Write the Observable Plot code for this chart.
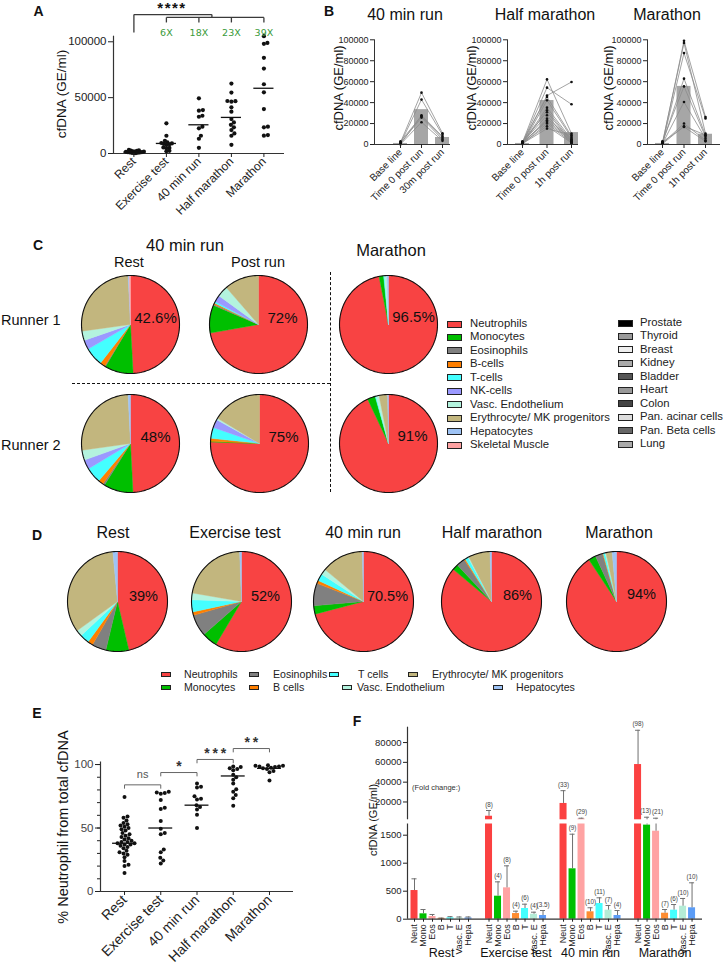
<!DOCTYPE html>
<html><head><meta charset="utf-8">
<script src="https://cdn.jsdelivr.net/npm/d3@7"></script>
<script src="https://cdn.jsdelivr.net/npm/@observablehq/plot@0.6"></script>
<style>
body{margin:0;background:#fff;font-family:'Liberation Sans',Arial,sans-serif;}
#page{position:relative;width:724px;height:968px;overflow:hidden;background:#fff;}
</style></head><body><div id="page"></div>
<script>
// ================= DATA =================
// Panel A
const stagesA = ["Rest","Exercise test","40 min run","Half marathon","Marathon"];
const restA = [3200,2800,2500,2300,2000,1800,1600,1500,1300,1200,1000,900,700,600,400,300];
const exerciseA = [27000,15900,11400,10000,9400,9000,8700,8300,7800,5400,5000,4800,2400,2000];
const min40A = [49400,38900,38300,33800,32900,24000,22500,15900,13200,5100];
const halfA = [62600,54500,47000,46800,46400,41300,37400,30800,27800,25700,23400,21000,18000,15900,7800];
const marathonA = [105000,99000,98200,85600,76000,62000,54800,39800,24000,23400,16500,16000];
const centerA = [1200,9000,25700,32300,58400];
const foldA = ["6X","18X","23X","39X"];
const bracketA = {top:124400, drop:108300, mid:121800, tick:117300, split:2.4};

// Panel B
const phases30 = ["Base line","Time 0 post run","30m post run"];
const phases1h = ["Base line","Time 0 post run","1h post run"];
const b40Base = [2000,1000,500,3000,1500,200];
const b40T0 = [49500,42900,27900,27000,25700,21300];
const b40T1 = [10800,9200,7600,6300,4800,3500];
const b40Bars = [1000,33300,6700];
const bHalfBase = [2000,1500,1000,2500,500,1200,800,3000,1800,600,1000,2200,400,1400,900];
const bHalfT0 = [62200,54300,46700,45400,42200,35200,32700,30800,27900,24800,23200,21600,20000,17500,15200];
const bHalfT1 = [10500,38400,59700,8000,6700,4800,3500,2500,1000,5500,4000,3000,2000,1500,9000];
const bHalfBars = [1000,42000,11400];
const bMarBase = [1000,2000,500,1500,3000,800,1200,600,2500];
const bMarT0 = [99000,97000,87300,62900,55500,40600,20000,17500,16800];
const bMarT1 = [26300,10500,24800,8900,7300,5700,4100,9000,3000];
const bMarBars = [1000,55500,9800];

// Panel C
const cellTypesC = ["Neutrophils","Monocytes","Eosinophils","B-cells","T-cells","NK-cells","Vasc. Endothelium","Erythrocyte/ MK progenitors","Hepatocytes","Skeletal Muscle"];
const cellColorsC = ["#f84343","#00bf00","#808080","#ff7f00","#44ffff","#9b99ff","#b3f3de","#c2b67e","#9ec3f5","#ffa3a3"];
const tissuesC = ["Prostate","Thyroid","Breast","Kidney","Bladder","Heart","Colon","Pan. acinar cells","Pan. Beta cells","Lung"];
const tissueColorsC = ["#000000","#9a9a9a","#eeeeee","#aaaaaa","#555555","#999999","#444444","#dddddd","#666666","#aaaaaa"];
const r1Rest = [49.2,9.4,0.3,1.7,6.1,3.1,3.1,26.4,0.4,0.4];
const r1Post = [72.2,9.2,0.4,0.4,0.6,2.2,3.6,11.4,0,0];
const r1Mar  = [96.9,1.5,0,0,0.3,0,0.8,0,0.5,0];
const r2Rest = [49.2,9.7,0.6,1.7,5.2,3.1,3.3,26.4,0.8,0];
const r2Post = [75.5,0.2,0,1.0,3.6,2.8,0.5,16.4,0,0];
const r2Mar  = [93.0,2.6,0,0,0.3,0,1.0,2.8,0.3,0];
const labelsC = ["42.6%","72%","96.5%","48%","75%","91%"];

// Panel D
const cellTypesD = ["Neutrophils","Monocytes","Eosinophils","B cells","T cells","Vasc. Endothelium","Erythrocyte/ MK progenitors","Hepatocytes"];
const cellColorsD = ["#f84343","#00bf00","#808080","#ff7f00","#44ffff","#b3f3de","#c2b67e","#9ec3f5"];
const stagesD = ["Rest","Exercise test","40 min run","Half marathon","Marathon"];
const dRest = [46.4,7.4,4.6,1.7,3.0,2.0,33.5,1.5];
const dExercise = [58.6,5.0,7.0,1.1,3.9,2.2,21.7,0.6];
const d40 = [71.0,2.7,7.3,1.0,2.3,1.8,13.6,0.4];
const dHalf = [86.2,1.9,2.8,0.4,1.0,0.3,7.0,0.5];
const dMar = [90.7,2.4,2.4,0.2,0.6,0.3,2.0,1.4];
const labelsD = ["39%","52%","70.5%","86%","94%"];

// Panel E
const stagesE = ["Rest","Exercise test","40 min run","Half marathon","Marathon"];
const restE = [74.5,59,58,56,54,53,52,51,50,49,48,46,45,44,43,42,41,40,39,39,38,38,37,37,36,35,34,32,31,30,29,27,24,21,20,14.5];
const exerciseE = [78.5,78,77.5,77,72,66,65,55.5,49.5,46,45,33,31,26.5,24.5,22];
const min40E = [85,82.5,82,75,73,72.5,68,66.5,64.5,60.5,50];
const halfE = [98.5,98,97,96.5,95.5,92,90,88,85,80.5,78.5,76,73.5,67.5];
const marathonE = [99.5,99,99,98.5,98.5,98,97.5,97,96.5,95,94,87.5];
const centerE = [38,50,68,91,97];
const bracketsE = [{a:0,b:1,y:84,label:"ns"},{a:1,b:2,y:93.7,label:"*"},{a:2,b:3,y:104,label:"*\u2009*\u2009*"},{a:3,b:4,y:112.6,label:"*\u2009*"}];

// Panel F
const stagesF = ["Rest","Exercise test","40 min run","Marathon"];
const cellsF = ["Neut","Mono","Eos","B","T","Vasc. E","Hepa"];
const colorsF = ["#fb4141","#00c000","#ffa3a3","#ff8c30","#44ffff","#b4ecd6","#5b9cf6"];
const restF = [512,96,48,15,25,22,22];
const restErrF = [721,173,84,20,45,40,40];
const exerciseF = [5600,411,560,101,191,89,66];
const exerciseErrF = [11400,667,953,143,268,125,155];
const min40F = [18500,900,2900,132,280,161,66];
const min40ErrF = [31400,1518,3600,204,382,245,155];
const marathonF = [57800,1680,1571,107,161,232,204];
const marathonErrF = [92400,4600,3600,173,262,370,650];
const foldRest = ["","","","","","",""];
const foldExercise = ["(8)","(4)","(8)","(4)","(6)","(4)","(3.5)"];
const fold40 = ["(33)","(9)","(29)","(10)","(11)","(7)","(4)"];
const foldMar = ["(98)","(13)","(21)","(7)","(6)","(10)","(10)"];

// ================= HELPERS =================
const FONT = "'Liberation Sans', Arial, sans-serif";
const page = document.getElementById("page");
const baseStyle = {fontFamily: FONT, color: "#222", background: "transparent", overflow: "visible"};
function put(el, left, top){ el.style.position="absolute"; el.style.left=left+"px"; el.style.top=top+"px"; page.appendChild(el); return el; }
function txt(s, x, y, o={}){
  const d = document.createElement("div");
  d.textContent = s;
  const ax = o.anchor==="start" ? "0" : o.anchor==="end" ? "-100%" : "-50%";
  Object.assign(d.style,{position:"absolute",left:x+"px",top:y+"px",fontSize:(o.size||12)+"px",fontWeight:o.weight||"normal",
    fontFamily:o.family||FONT,color:o.color||"#111",whiteSpace:"nowrap",lineHeight:"1",letterSpacing:(o.spacing||0)+"px",
    transform:`translate(${ax},-50%)`+(o.rotate?` rotate(${o.rotate}deg)`:"")});
  page.appendChild(d); return d;
}
function box(x,y,w,h,css){ const d=document.createElement("div"); Object.assign(d.style,{position:"absolute",left:x+"px",top:y+"px",width:w+"px",height:h+"px",boxSizing:"border-box"},css); page.appendChild(d); return d; }
// beeswarm offsets (layout only) in x units
function swarm(values, pxX, pxY, dist){
  const idx = d3.range(values.length).sort((a,b)=>values[a]-values[b]);
  const placed=[], off=new Array(values.length);
  for(const i of idx){
    const yp = values[i]*pxY; let best=0;
    for(let k=0;k<600;k++){
      const c = (k%2?1:-1)*Math.ceil(k/2)*0.5;
      if(placed.every(p=>(p.x-c)**2+(p.y-yp)**2 >= dist*dist)){best=c;break;}
    }
    placed.push({x:best,y:yp}); off[i]=best/pxX;
  }
  return off;
}

// ================= PANEL A =================
(function(){
  const vals=[restA,exerciseA,min40A,halfA,marathonA];
  const dists=[1.8,2.6,3.6,3.6,3.6];
  const pxX=32.5, pxY=111.7/100000;
  const rows=[];
  vals.forEach((arr,i)=>{ const off=swarm(arr,pxX,pxY,dists[i]); arr.forEach((v,j)=>rows.push({i,v,x:i+off[j]})); });
  const x0=-0.6277;
  const b=bracketA;
  const links=[{x1:0,y1:b.top,x2:b.split,y2:b.top},{x1:0,y1:b.top,x2:0,y2:b.drop},{x1:b.split,y1:b.top,x2:b.split,y2:b.mid},{x1:1,y1:b.mid,x2:4,y2:b.mid},
    ...[1,2,3,4].map(i=>({x1:i,y1:b.mid,x2:i,y2:b.tick}))];
  const svg=Plot.plot({width:300,height:215,marginLeft:113,marginRight:16,marginTop:35.7,marginBottom:62,
    x:{domain:[x0,4.6338]}, y:{domain:[0,105000]}, style:baseStyle,
    marks:[
      Plot.ruleY([0],{stroke:"#333",strokeWidth:1.2}),
      Plot.ruleX([x0],{stroke:"#333",strokeWidth:1.2}),
      Plot.dot(rows,{x:"x",y:"v",r:2.1,fill:"#111",stroke:null}),
      Plot.ruleY(centerA,{y:d=>d,x1:(d,i)=>i-0.31,x2:(d,i)=>i+0.31,stroke:"#111",strokeWidth:1.3}),
      Plot.link(links,{x1:"x1",y1:"y1",x2:"x2",y2:"y2",stroke:"#3a3a3a",strokeWidth:1.3}),
      Plot.text(foldA,{x:(d,i)=>i+1,frameAnchor:"top",dy:-6.5,text:d=>d,fill:"#3a9a3a",fontSize:9.5,fontFamily:"DejaVu Sans"}),
      Plot.axisY({ticks:[0,50000,100000],tickFormat:d=>String(d),tickSize:5,tickPadding:2,fontSize:11.5,label:null}),
      Plot.axisX({ticks:[0,1,2,3,4],tickFormat:i=>stagesA[i],tickRotate:-45,tickSize:4,tickPadding:2,fontSize:12,label:null})
    ]});
  put(svg,0,0);
  txt("A",38.5,11,{size:14,weight:"bold"});
  txt("****",172,7,{size:15,weight:"bold",spacing:1.5});
  txt("cfDNA (GE/ml)",62,94,{size:13.5,rotate:-90});
})();

// ================= PANEL B =================
function plotB(phases,base,t0,t1,bars,c0,s,ax0,ax1,left,width){
  const rows=[];
  base.forEach((bv,k)=>[bv,t0[k],t1[k]].forEach((v,i)=>rows.push({id:k,i,v})));
  const x0=(ax0-c0)/s, x1=2+(ax1-(c0+2*s))/s, hw=7/s;
  const svg=Plot.plot({width,height:190,marginLeft:ax0-left,marginRight:left+width-ax1,marginTop:19.3,marginBottom:66,
    x:{domain:[x0,x1]}, y:{domain:[0,100000]}, style:baseStyle,
    marks:[
      Plot.rect(bars,{x1:(d,i)=>i-hw,x2:(d,i)=>i+hw,y1:0,y2:d=>d,fill:"#a6a6a6"}),
      Plot.line(rows,{x:"i",y:"v",z:"id",stroke:"#8c8c8c",strokeWidth:0.8}),
      Plot.dot(rows,{x:"i",y:"v",r:1.3,fill:"#111",stroke:null}),
      Plot.ruleY([0],{stroke:"#333"}),
      Plot.ruleX([x0],{stroke:"#333"}),
      Plot.axisY({ticks:d3.range(0,100001,20000),tickFormat:d=>String(d),tickSize:4,tickPadding:2,fontSize:9,label:null}),
      Plot.axisX({ticks:[0,1,2],tickFormat:i=>phases[i],tickRotate:-45,tickSize:4,tickPadding:2,fontSize:10,label:null})
    ]});
  put(svg,left,20);
}
plotB(phases30,b40Base,b40T0,b40T1,b40Bars,400,21,374,450,320,135);
plotB(phases1h,bHalfBase,bHalfT0,bHalfT1,bHalfBars,522,24.5,507,578,458,125);
plotB(phases1h,bMarBase,bMarT0,bMarT1,bMarBars,662,21.5,647,720,600,124);
txt("B",329,11,{size:14,weight:"bold"});
txt("40 min run",405,15,{size:16});
txt("Half marathon",545,15,{size:16});
txt("Marathon",667,15,{size:16});
txt("cfDNA (GE/ml)",338,88,{size:13,rotate:-90});
txt("cfDNA (GE/ml)",471,88,{size:13,rotate:-90});
txt("cfDNA (GE/ml)",608,88,{size:13,rotate:-90});

// ================= PIES =================
function pie(values,cats,colors,r,label,ldx,ldy,fs){
  const total=d3.sum(values); const rows=[]; let acc=0;
  values.forEach((v,i)=>{
    if(!(v>0)) return;
    const a0=acc/total*2*Math.PI, a1=(acc+v)/total*2*Math.PI; acc+=v;
    const n=Math.max(2,Math.ceil((a1-a0)/(Math.PI/180)));
    rows.push({key:i,cat:cats[i],x:0,y:0});
    for(let k=0;k<=n;k++){const a=a0+(a1-a0)*k/n; rows.push({key:i,cat:cats[i],x:Math.sin(a),y:Math.cos(a)});}
    rows.push({key:i,cat:cats[i],x:0,y:0});
  });
  const ring=d3.range(0,361,2).map(d=>({x:Math.sin(d*Math.PI/180),y:Math.cos(d*Math.PI/180)}));
  const size=2*r+4;
  return Plot.plot({width:size,height:size,margin:2,x:{domain:[-1,1],axis:null},y:{domain:[-1,1],axis:null},
    color:{domain:cats,range:colors},style:baseStyle,
    marks:[
      Plot.line(rows,{x:"x",y:"y",z:"key",fill:"cat",stroke:"cat",strokeWidth:0.4}),
      Plot.line(ring,{x:"x",y:"y",stroke:"#111",strokeWidth:1.1}),
      Plot.text([label],{frameAnchor:"middle",dx:ldx,dy:ldy,text:d=>d,fontSize:fs,fill:"#111"})
    ]});
}

// ================= PANEL C =================
(function(){
  const pies=[[r1Rest,130,324,25,-6],[r1Post,258,324,24,-6],[r1Mar,388,324,25,-7],[r2Rest,130,443,25,-6],[r2Post,259,443,24,-6],[r2Mar,388,443,24,-7]];
  pies.forEach(([v,cx,cy,dx,dy],k)=>put(pie(v,cellTypesC,cellColorsC,49,labelsC[k],dx,dy,15),cx-51,cy-51));
  txt("C",38,245,{size:14,weight:"bold"});
  txt("40 min run",185,245,{size:16.5});
  txt("Rest",129,262,{size:14.5});
  txt("Post run",258,262,{size:14.5});
  txt("Marathon",391,250,{size:16.5});
  txt("Runner 1",1,320,{size:14.5,anchor:"start"});
  txt("Runner 2",1,445,{size:14.5,anchor:"start"});
  box(330,272,2,220,{borderLeft:"1.5px dashed #111"});
  box(72,383,258,2,{borderTop:"1.5px dashed #111"});
  cellTypesC.forEach((c,k)=>{ const y=324+k*13.45; box(447,y-3.5,15,7,{background:cellColorsC[k],border:"1px solid #222"}); txt(c,470,y,{size:11.3,anchor:"start",color:"#222"}); });
  tissuesC.forEach((c,k)=>{ const y=323+k*13.45; box(618,y-3.5,15,7,{background:tissueColorsC[k],border:"1px solid #222"}); txt(c,640,y,{size:11.3,anchor:"start",color:"#222"}); });
})();

// ================= PANEL D =================
(function(){
  const vals=[dRest,dExercise,d40,dHalf,dMar];
  const cx=[117,241,363,491,616], tx=[113,235,363,492,619], ldx=[26,24,24,26,25], ldy=[-5,-5,-5,-6,-7];
  vals.forEach((v,k)=>put(pie(v,cellTypesD,cellColorsD,50,labelsD[k],ldx[k],ldy[k],14.5),cx[k]-52,601-52));
  stagesD.forEach((s,k)=>txt(s,tx[k],533,{size:16}));
  txt("D",37,535,{size:14,weight:"bold"});
  const leg=[[0,161,184,674],[2,249,273,674],[4,329,358,674],[6,408,432,674],[1,161,184,687],[3,249,273,687],[5,342,357,687],[7,493,516,687]];
  leg.forEach(([k,sx,tx2,y])=>{ box(sx,y-2.5,10,5,{background:cellColorsD[k],border:"1px solid #222"}); txt(cellTypesD[k],tx2,y,{size:10.6,anchor:"start",color:"#222"}); });
})();

// ================= PANEL E =================
(function(){
  const vals=[restE,exerciseE,min40E,halfE,marathonE];
  const pxX=36.24, pxY=1.2696;
  const rows=[];
  vals.forEach((arr,i)=>{ const off=swarm(arr,pxX,pxY,3.8); arr.forEach((v,j)=>rows.push({i,v,x:i+off[j]})); });
  const x0=-0.663;
  const svg=Plot.plot({width:310,height:268,marginLeft:100,marginRight:17,marginTop:61.5,marginBottom:77,
    x:{domain:[x0,4.663]}, y:{domain:[0,102]}, style:baseStyle,
    marks:[
      Plot.ruleY([0],{stroke:"#333",strokeWidth:1.2}),
      Plot.ruleX([x0],{stroke:"#333",strokeWidth:1.2}),
      Plot.dot(rows,{x:"x",y:"v",r:2,fill:"#111",stroke:null}),
      Plot.ruleY(centerE,{y:d=>d,x1:(d,i)=>i-0.33,x2:(d,i)=>i+0.33,stroke:"#111",strokeWidth:1.3}),
      Plot.link(bracketsE,{x1:"a",x2:"b",y1:"y",y2:"y",stroke:"#666",strokeWidth:1}),
      Plot.link(bracketsE,{x1:"a",x2:"a",y1:"y",y2:d=>d.y-3,stroke:"#666",strokeWidth:1}),
      Plot.link(bracketsE,{x1:"b",x2:"b",y1:"y",y2:d=>d.y-3,stroke:"#666",strokeWidth:1}),
      Plot.text(bracketsE,{filter:d=>d.label==="ns",x:d=>(d.a+d.b)/2,y:"y",text:"label",dy:-10,fontSize:11,fill:"#555"}),
      Plot.text(bracketsE,{filter:d=>d.label!=="ns",x:d=>(d.a+d.b)/2,y:"y",text:"label",dy:-6,fontSize:14,fontWeight:"bold",fill:"#333"}),
      Plot.axisY({ticks:d3.range(0,101,10),tickSize:3,tickFormat:()=>"",label:null}),
      Plot.axisY({ticks:[0,50,100],tickSize:5,tickPadding:2,tickFormat:d=>String(d),fontSize:11.5,fill:"#444",label:null}),
      Plot.axisX({ticks:[0,1,2,3,4],tickFormat:i=>stagesE[i],tickRotate:-45,tickSize:4,tickPadding:2,fontSize:14,label:null})
    ]});
  put(svg,0,700);
  txt("E",37,713,{size:14,weight:"bold"});
  txt("% Neutrophil from total cfDNA",63,827,{size:14.5,rotate:-90});
})();

// ================= PANEL F =================
(function(){
  const vals=[restF,exerciseF,min40F,marathonF], errs=[restErrF,exerciseErrF,min40ErrF,marathonErrF], folds=[foldRest,foldExercise,fold40,foldMar];
  const gapF=8.28;
  const rows=[];
  stagesF.forEach((st,gi)=>cellsF.forEach((c,ci)=>rows.push({gi,ci,cell:c,pos:gi*gapF+ci,v:vals[gi][ci],err:errs[gi][ci],fold:folds[gi][ci]})));
  const cellByPos=new Map(rows.map(d=>[d.pos,d.cell]));
  const x0=-0.778, xd=[x0,32.0], hw=0.39, cw=0.28;
  // adjacent labels that would collide are anchored away from each other
  const pairL=d=>d.gi===3&&d.ci===1, pairR=d=>d.gi===3&&d.ci===2;
  const upper=Plot.plot({width:364,height:105,marginLeft:47,marginRight:22,marginTop:11.7,marginBottom:0.7,
    x:{domain:xd,axis:null}, y:{domain:[2000,95500],clamp:true}, color:{domain:cellsF,range:colorsF}, style:baseStyle,
    marks:[
      Plot.rect(rows,{filter:d=>d.v>2000,x1:d=>d.pos-hw,x2:d=>d.pos+hw,y1:0,y2:"v",fill:"cell"}),
      Plot.ruleX(rows,{filter:d=>d.err>2000,x:"pos",y1:"v",y2:"err",stroke:"#707070"}),
      Plot.ruleY(rows,{filter:d=>d.err>2000,y:"err",x1:d=>d.pos-cw,x2:d=>d.pos+cw,stroke:"#707070"}),
      Plot.text(rows,{filter:d=>d.err>2000&&d.fold&&!pairL(d)&&!pairR(d),x:"pos",y:"err",text:"fold",dy:-6,fontSize:6.3,fill:"#444"}),
      Plot.text(rows,{filter:pairL,x:"pos",y:"err",text:"fold",dy:-6,dx:4.1,textAnchor:"end",fontSize:6.3,fill:"#444"}),
      Plot.text(rows,{filter:pairR,x:"pos",y:"err",text:"fold",dy:-6,dx:-4.1,textAnchor:"start",fontSize:6.3,fill:"#444"}),
      Plot.ruleX([x0],{stroke:"#333",strokeWidth:1.2}),
      Plot.axisY({ticks:[20000,40000,60000,80000],tickFormat:d=>String(d),tickSize:4,tickPadding:2,fontSize:9.5,label:null})
    ]});
  put(upper,360,715);
  const lower=Plot.plot({width:364,height:146,marginLeft:47,marginRight:22,marginTop:1.5,marginBottom:49.3,
    x:{domain:xd}, y:{domain:[0,1700],clamp:true}, color:{domain:cellsF,range:colorsF}, style:baseStyle,
    marks:[
      Plot.rect(rows,{x1:d=>d.pos-hw,x2:d=>d.pos+hw,y1:0,y2:"v",fill:"cell"}),
      Plot.ruleX(rows,{x:"pos",y1:"v",y2:"err",stroke:"#707070"}),
      Plot.ruleY(rows,{filter:d=>d.err<=1700,y:"err",x1:d=>d.pos-cw,x2:d=>d.pos+cw,stroke:"#707070"}),
      Plot.text(rows,{filter:d=>d.err<=1700&&d.fold,x:"pos",y:"err",text:"fold",dy:-6,fontSize:6.3,fill:"#444"}),
      Plot.ruleY([0],{stroke:"#333",strokeWidth:1.2}),
      Plot.ruleX([x0],{stroke:"#333",strokeWidth:1.2}),
      Plot.axisY({ticks:[0,500,1000,1500],tickFormat:d=>String(d),tickSize:4,tickPadding:2,fontSize:9.5,label:null}),
      Plot.axisX({ticks:rows.map(d=>d.pos),tickFormat:d=>cellByPos.get(d),tickRotate:-90,tickSize:3,tickPadding:2,fontSize:9,label:null}),
      Plot.text(stagesF,{x:(d,gi)=>gi*gapF+3,frameAnchor:"bottom",dy:38,text:d=>d,fontSize:12.5,fill:"#111"})
    ]});
  put(lower,360,822);
  txt("F",357,721,{size:14,weight:"bold"});
  txt("cfDNA (GE/ml)",373,820,{size:11,rotate:-90});
  txt("(Fold change:)",412,788,{size:7.5,anchor:"start",color:"#333"});
})();
</script></body></html>
